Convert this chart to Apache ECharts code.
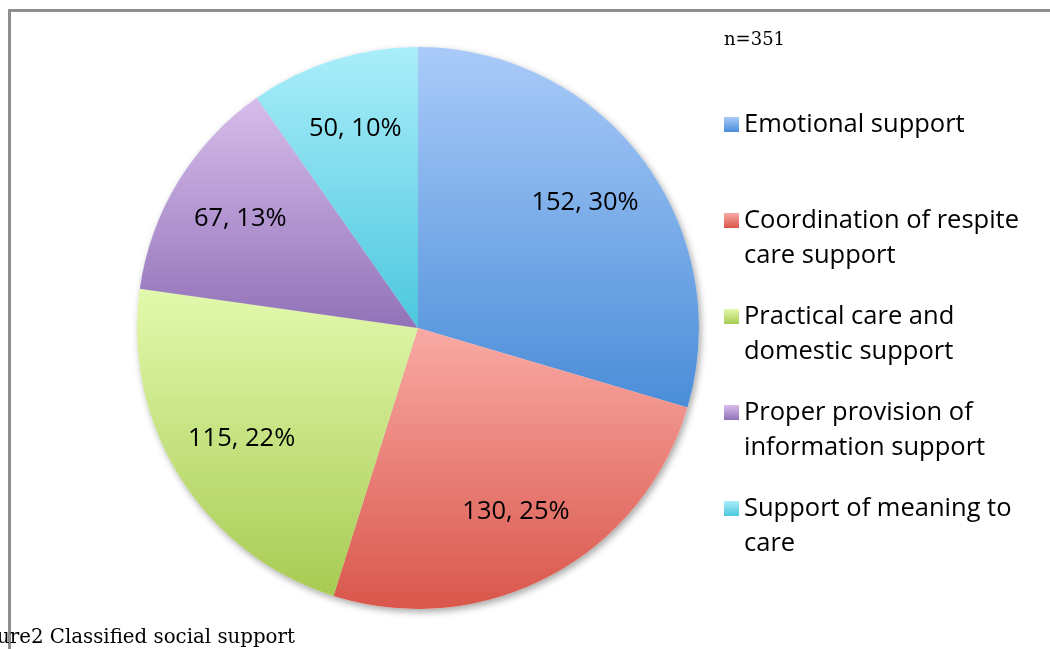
<!DOCTYPE html>
<html>
<head>
<meta charset="utf-8">
<script src="https://cdn.jsdelivr.net/npm/echarts@6/dist/echarts.min.js"></script>
<style>
  html, body { margin: 0; padding: 0; background: #fff; }
  #frame { position: absolute; left: 8px; top: 9px; width: 1050px; height: 650px;
           border-left: 3px solid #8e8e8e; border-top: 3px solid #8e8e8e; }
  #main { position: absolute; left: 0; top: 0; width: 1050px; height: 649px; }
</style>
</head>
<body>
<div id="frame"></div>
<div id="main"></div>
<script>
  // 类别与数值
  var categories = ['Emotional support', 'Coordination of respite care support',
    'Practical care and domestic support', 'Proper provision of information support',
    'Support of meaning to care'];
  var legendLines = ['Emotional support\n', 'Coordination of respite\ncare support',
    'Practical care and\ndomestic support', 'Proper provision of\ninformation support',
    'Support of meaning to\ncare'];
  var counts = [152, 130, 115, 67, 50];
  // 渐变色: 上浅下深
  var topColors = ['#aacbf9', '#f9aaa4', '#e2f9ad', '#d7bdeb', '#aaeefa'];
  var bottomColors = ['#4a8dd8', '#d9564b', '#a8cb53', '#9172b8', '#4cc7de'];

  var myChart = echarts.init(document.getElementById('main'));

  var pieData = categories.map(function (name, i) {
    return {
      name: name,
      value: counts[i],
      itemStyle: {
        color: new echarts.graphic.LinearGradient(0, 0, 0, 1, [
          { offset: 0, color: topColors[i] },
          { offset: 1, color: bottomColors[i] }
        ])
      }
    };
  });
  var plainData = categories.map(function (name, i) {
    return { name: name, value: counts[i] };
  });

  var option = {
    animation: false,
    legend: {
      orient: 'vertical',
      left: 724,
      top: 72,
      padding: 0,
      itemGap: -9,
      itemWidth: 15,
      itemHeight: 15,
      icon: 'rect',
      data: categories,
      // 首行前加空行, 让图标与第一行对齐
      formatter: function (name) {
        return '\n' + legendLines[categories.indexOf(name)];
      },
      textStyle: {
        fontFamily: 'Open Sans',
        fontSize: 25.5,
        lineHeight: 35,
        color: '#000'
      }
    },
    graphic: [
      {
        type: 'text', left: 724, top: 31,
        style: { text: 'n=351', font: '18px "DejaVu Serif"', fill: '#000' }
      },
      {
        type: 'text', left: -3, top: 628,
        style: { text: 'ure2 Classified social support', font: '19.8px "DejaVu Serif"', fill: '#000' }
      }
    ],
    series: [
      {
        type: 'pie',
        z: 3,
        center: [418, 328],
        radius: 281,
        startAngle: 90,
        clockwise: true,
        silent: true,
        label: { show: false },
        labelLine: { show: false },
        data: pieData
      },
      {
        // 阴影层
        type: 'pie',
        z: 1,
        center: [418, 328],
        radius: 281,
        startAngle: 90,
        silent: true,
        label: { show: false },
        labelLine: { show: false },
        itemStyle: {
          color: '#fff',
          shadowBlur: 7,
          shadowOffsetX: 2,
          shadowOffsetY: 3,
          shadowColor: 'rgba(0,0,0,0.35)'
        },
        data: plainData
      },
      {
        // 标签层: 透明环, 让标签落在约 0.73 半径处
        type: 'pie',
        z: 4,
        center: [418, 328],
        radius: [130, 281],
        startAngle: 90,
        clockwise: true,
        silent: true,
        percentPrecision: 0,
        itemStyle: { color: 'rgba(0,0,0,0)' },
        label: {
          show: true,
          position: 'inside',
          formatter: '{c}, {d}%',
          fontFamily: 'Open Sans',
          fontSize: 25.5,
          color: '#000'
        },
        labelLine: { show: false },
        data: plainData
      }
    ]
  };

  myChart.setOption(option);
</script>
</body>
</html>
